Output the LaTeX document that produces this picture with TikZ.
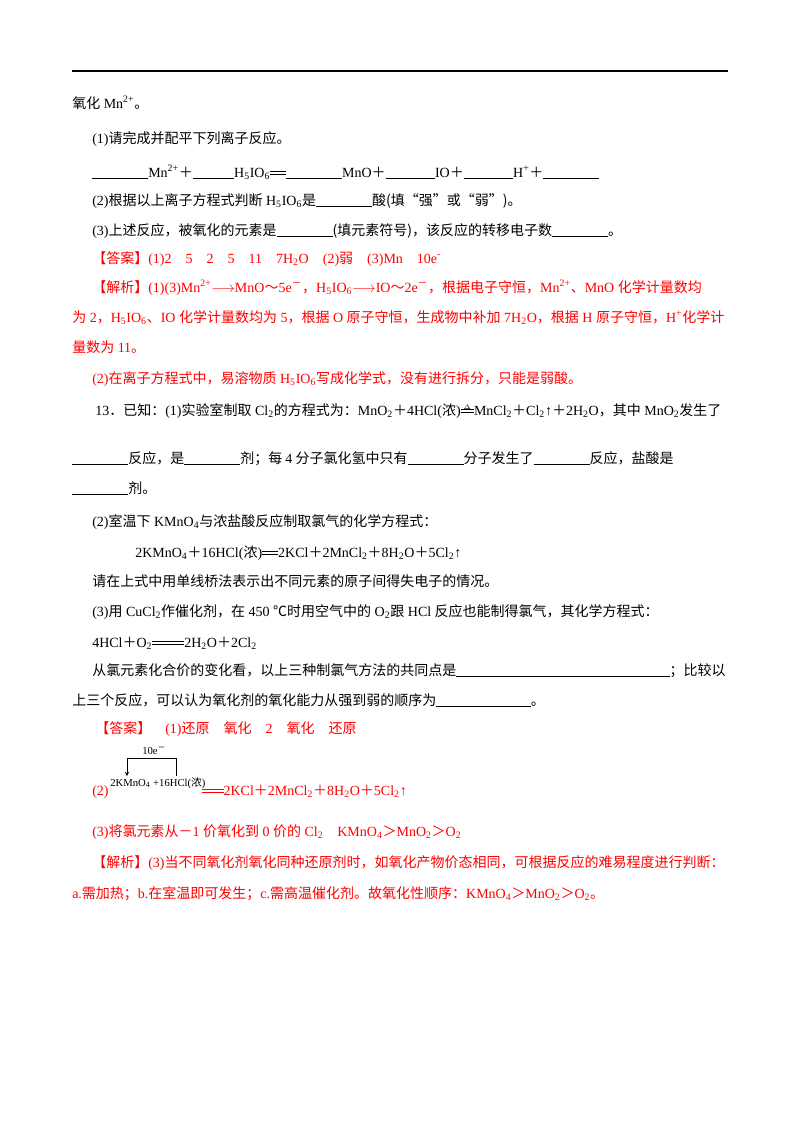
\documentclass[tikz,border=0pt]{standalone}
\usepackage{fontspec}
\setmainfont{Liberation Serif}
\newfontfamily\cjk{Noto Sans CJK SC}
\newcommand\C[1]{{\cjk #1}}
\newcommand\bl[1]{\rule[-1.5pt]{#1}{0.4pt}}
\newcommand\eqs[1]{\raisebox{2pt}{\ooalign{\rule{#1}{0.4pt}\cr\rule[2pt]{#1}{0.4pt}}}}
\newcommand\sub[1]{\textsubscript{#1}}
\newcommand\sups[1]{\textsuperscript{#1}}
\newcommand\pl{\C{＋}}
\newcommand\gt{\C{＞}}
\newcommand\til{\C{～}}
\newcommand\mi{\C{－}}
\begin{document}
\begin{tikzpicture}[x=0.75pt,y=-0.75pt,
  t/.style={anchor=base west,inner sep=0pt,font=\fontsize{10.5}{12}\selectfont},
  r/.style={t,text=red}]
\useasboundingbox (0,0) rectangle (800,1132);
\draw[line width=0.8pt] (72,71) -- (728,71);
\node[t] (l1) at (72,108) {\C{氧化} Mn\sups{2+}\C{。}};
\node[t] (l2) at (92,143) {(1)\C{请完成并配平下列离子反应。}};
\node[t] (l3) at (92,177) {\bl{42pt}Mn\sups{2+}\pl\bl{31pt}H\sub{5}IO\sub{6}\eqs{12pt}\bl{42pt}MnO\pl\bl{37pt}IO\pl\bl{37pt}H\sups{+}\pl\bl{42pt}};
\node[t] (l4) at (92,205) {(2)\C{根据以上离子方程式判断} H\sub{5}IO\sub{6}\C{是}\bl{42pt}\C{酸(填“强”或“弱”)。}};
\node[t] (l5) at (92,235) {(3)\C{上述反应，被氧化的元素是}\bl{42pt}\C{(填元素符号)，该反应的转移电子数}\bl{42pt}\C{。}};
\node[r] (l6) at (92,263) {\C{【答案】}(1)2\quad 5\quad 2\quad 5\quad 11\quad 7H\sub{2}O\quad (2)\C{弱}\quad (3)Mn\quad 10e\sups{-}};
\node[r] (l7) at (92,292) {\C{【解析】}(1)(3)Mn\sups{2+}$\longrightarrow$MnO\til 5e\sups{\mi}\C{，}H\sub{5}IO\sub{6}$\longrightarrow$IO\til 2e\sups{\mi}\C{，根据电子守恒，}Mn\sups{2+}\C{、}MnO \C{化学计量数均}};
\node[r] (l8) at (72,322) {\C{为} 2\C{，}H\sub{5}IO\sub{6}\C{、}IO \C{化学计量数均为} 5\C{，根据} O \C{原子守恒，生成物中补加} 7H\sub{2}O\C{，根据} H \C{原子守恒，}H\sups{+}\C{化学计}};
\node[r] (l9) at (72,352) {\C{量数为} 11\C{。}};
\node[r] (l10) at (92,383) {(2)\C{在离子方程式中，易溶物质} H\sub{5}IO\sub{6}\C{写成化学式，没有进行拆分，只能是弱酸。}};
\node[t] (m1) at (95,415) {13\C{．已知：}(1)\C{实验室制取} Cl\sub{2}\C{的方程式为：}MnO\sub{2}\pl 4HCl(\C{浓})$\stackrel{\scriptscriptstyle\Delta}{\hbox{\eqs{10pt}}}$MnCl\sub{2}\pl Cl\sub{2}↑\pl 2H\sub{2}O\C{，其中} MnO\sub{2}\C{发生了}};
\node[t] (m2) at (72,463) {\bl{42pt}\C{反应，是}\bl{42pt}\C{剂；每 }4\C{ 分子氯化氢中只有}\bl{42pt}\C{分子发生了}\bl{42pt}\C{反应，盐酸是}};
\node[t] (m3) at (72,493) {\bl{42pt}\C{剂。}};
\node[t] (m4) at (92,526) {(2)\C{室温下} KMnO\sub{4}\C{与浓盐酸反应制取氯气的化学方程式：}};
\node[t] (m5) at (135,557) {2KMnO\sub{4}\pl 16HCl(\C{浓})\eqs{12pt}2KCl\pl 2MnCl\sub{2}\pl 8H\sub{2}O\pl 5Cl\sub{2}↑};
\node[t] (m6) at (92,586) {\C{请在上式中用单线桥法表示出不同元素的原子间得失电子的情况。}};
\node[t] (m7) at (92,616) {(3)\C{用} CuCl\sub{2}\C{作催化剂，在} 450 \C{℃时用空气中的} O\sub{2}\C{跟} HCl \C{反应也能制得氯气，其化学方程式：}};
\node[t] (m8) at (92,647) {4HCl\pl O\sub{2}\eqs{24pt}2H\sub{2}O\pl 2Cl\sub{2}};
\node[t] (m9) at (92,675) {\C{从氯元素化合价的变化看，以上三种制氯气方法的共同点是}\bl{160pt}\C{；比较以}};
\node[t] (m10) at (72,705) {\C{上三个反应，可以认为氧化剂的氧化能力从强到弱的顺序为}\bl{71pt}\C{。}};
\node[r] (a1) at (95,733) {\C{【答案】}\quad(1)\C{还原}\quad\C{氧化}\quad 2\quad\C{氧化}\quad\C{还原}};
\node[r] (a2) at (92,795) {(2)};
\node[t,font=\fontsize{8}{9}\selectfont] (br) at (110,786) {2KMnO\sub{4} +16HCl(\C{浓})};
\node[r] (a2b) at (202,795) {\eqs{16pt}2KCl\pl 2MnCl\sub{2}\pl 8H\sub{2}O\pl 5Cl\sub{2}↑};
\coordinate (p1) at (127,776);
\coordinate (p2) at (176,776);
\draw[line width=0.4pt,-stealth] (p2) |- ++(0,-18) -| (p1);
\node[t,font=\fontsize{8}{9}\selectfont] (e10) at (142,754) {10e\sups{\mi}};
\node[r] (a3) at (92,836) {(3)\C{将氯元素从}\mi 1 \C{价氧化到} 0 \C{价的} Cl\sub{2}\quad KMnO\sub{4}\gt MnO\sub{2}\gt O\sub{2}};
\node[r] (a4) at (92,867) {\C{【解析】}(3)\C{当不同氧化剂氧化同种还原剂时，如氧化产物价态相同，可根据反应的难易程度进行判断：}};
\node[r] (a5) at (72,898) {a.\C{需加热；}b.\C{在室温即可发生；}c.\C{需高温催化剂。故氧化性顺序：}KMnO\sub{4}\gt MnO\sub{2}\gt O\sub{2}\C{。}};
\end{tikzpicture}
\end{document}
